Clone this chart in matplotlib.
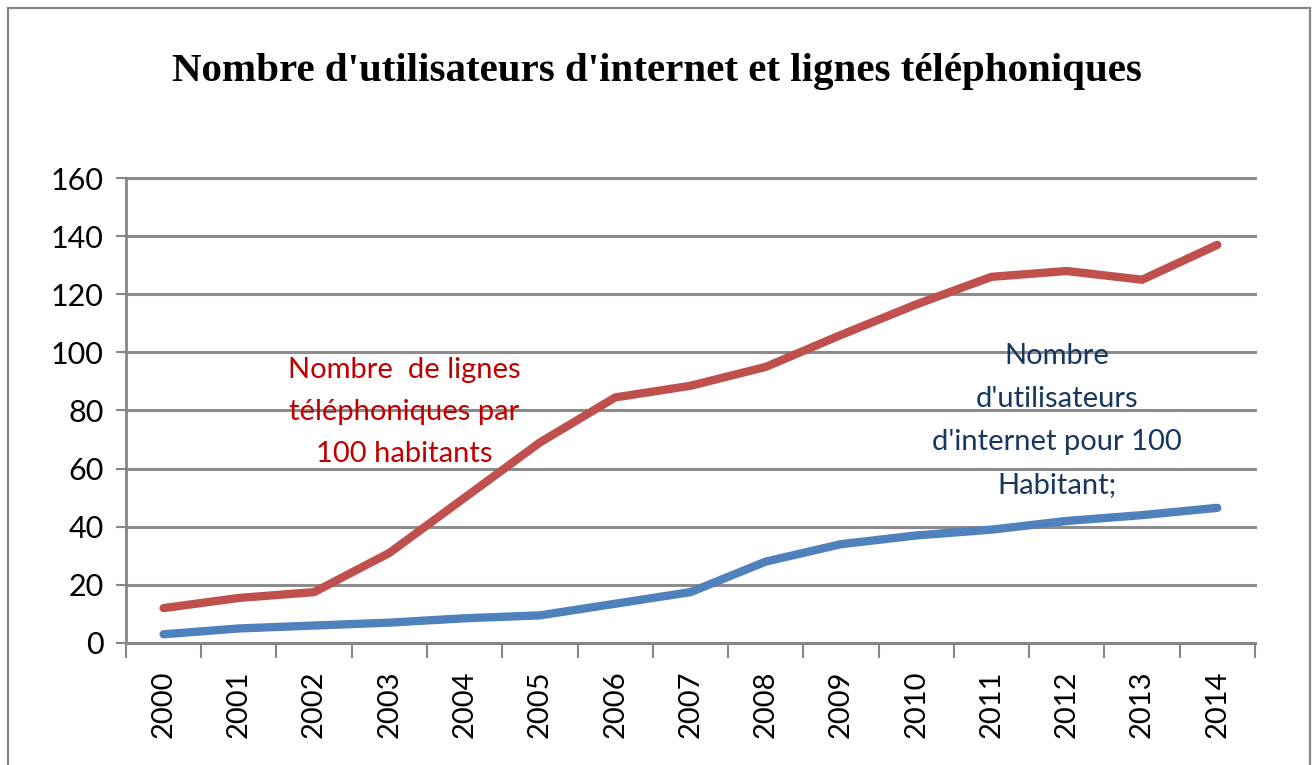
import matplotlib.pyplot as plt
from matplotlib.patches import Rectangle
import numpy as np

years = [str(y) for y in range(2000, 2015)]
lignes_tel = [12, 15.5, 17.5, 31, 50, 69, 84.5, 88.5, 95, 106, 116.5, 126, 128, 125, 137]
internet = [3, 5, 6, 7, 8.5, 9.5, 13.5, 17.5, 28, 34, 37, 39, 42, 44, 46.5]
y_ticks = list(range(0, 161, 20))

title = "Nombre d'utilisateurs d'internet et lignes téléphoniques"
label_tel = "Nombre  de lignes\ntéléphoniques par\n100 habitants"
label_net = "Nombre\nd'utilisateurs\nd'internet pour 100\nHabitant;"

sans = ['Lato', 'DejaVu Sans']

fig = plt.figure(figsize=(13.16, 7.65), dpi=100)
ax = fig.add_axes([0.0957, 0.1595, 0.8579, 0.6078])

# outer chart frame
fig.patches.append(Rectangle((8 / 1316, -0.05), (1310 - 8) / 1316, 1.05 - 8 / 765,
                             transform=fig.transFigure, fill=False,
                             edgecolor='#868686', lw=1.6))

x = np.arange(len(years))
ax.plot(x, lignes_tel, color='#c0504d', lw=6, solid_capstyle='round', zorder=3)
ax.plot(x, internet, color='#4f81bd', lw=6, solid_capstyle='round', zorder=3)

ax.set_xlim(-0.5, len(years) - 0.5)
ax.set_ylim(0, 160)
ax.set_yticks(y_ticks)
ax.set_yticklabels([str(v) for v in y_ticks], family=sans, fontsize=22)
ax.set_xticks(x)
ax.set_xticklabels(years, rotation=90, fontsize=21, family=sans)
ax.set_xticks(np.arange(-0.5, len(years)), minor=True)
ax.tick_params(axis='x', which='major', length=0, pad=20)
ax.tick_params(axis='x', which='minor', length=11, width=1.5, color='#868686')
ax.tick_params(axis='y', length=7, width=1.5, color='#868686', pad=9)

ax.grid(axis='y', color='#8c8c8c', lw=2.2)
for gl in ax.get_ygridlines():
    gl.set_clip_on(False)
ax.set_axisbelow(True)
for side in ['top', 'right']:
    ax.spines[side].set_visible(False)
for side in ['left', 'bottom']:
    ax.spines[side].set_color('#868686')
    ax.spines[side].set_linewidth(2)

ax.text(3.2, 79.5, label_tel, color='#c00000', fontsize=21, family=sans,
        ha='center', va='center', linespacing=1.78)
ax.text(11.87, 76.5, label_net, color='#17375e', fontsize=21, family=sans,
        ha='center', va='center', linespacing=1.82)

fig.text(0.499, 0.906, title, ha='center', va='center', fontsize=29.5,
         fontweight='bold', family=['Liberation Serif', 'DejaVu Serif'])

fig.savefig('out.png', dpi=100)
